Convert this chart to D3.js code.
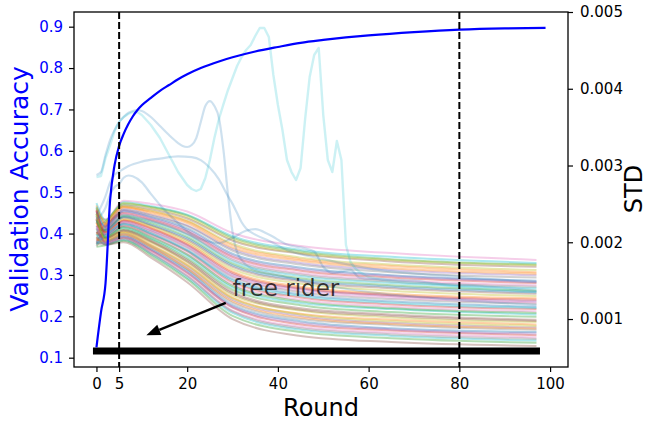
<!DOCTYPE html>
<html><head><meta charset="utf-8">
<script src="https://cdn.jsdelivr.net/npm/d3@7"></script>
<style>body{margin:0;background:#fff}svg{display:block;font-family:"DejaVu Sans",sans-serif}</style>
</head><body><svg id="chart" width="649" height="423"></svg>
<script>
// ---------- data ----------
const accRounds = [0,1,2,3,4,5,6,7,8,9,10,12,14,16,18,20,23,27,30,35,40,45,50,55,60,70,80,90,99];
const accValues = [0.125,0.21,0.28,0.48,0.566,0.612,0.641,0.664,0.683,0.698,0.710,0.728,0.745,0.759,0.773,0.785,0.800,0.816,0.826,0.840,0.851,0.861,0.868,0.874,0.879,0.887,0.893,0.896,0.897];

const bulkRounds = [0,2,6,12,20,30,45,65,97];
const bulkStd = [
 [2.36e-3,2.30e-3,2.54e-3,2.50e-3,2.40e-3,2.12e-3,1.95e-3,1.86e-3,1.77e-3],
 [2.51e-3,2.29e-3,2.52e-3,2.47e-3,2.36e-3,2.08e-3,1.90e-3,1.81e-3,1.73e-3],
 [2.20e-3,2.27e-3,2.50e-3,2.46e-3,2.35e-3,2.06e-3,1.88e-3,1.78e-3,1.71e-3],
 [2.44e-3,2.25e-3,2.48e-3,2.43e-3,2.31e-3,2.02e-3,1.85e-3,1.75e-3,1.68e-3],
 [2.05e-3,2.24e-3,2.47e-3,2.41e-3,2.28e-3,1.98e-3,1.80e-3,1.71e-3,1.64e-3],
 [2.48e-3,2.23e-3,2.45e-3,2.40e-3,2.27e-3,1.96e-3,1.78e-3,1.69e-3,1.61e-3],
 [2.28e-3,2.22e-3,2.43e-3,2.36e-3,2.22e-3,1.91e-3,1.73e-3,1.64e-3,1.57e-3],
 [2.12e-3,2.21e-3,2.42e-3,2.35e-3,2.21e-3,1.89e-3,1.71e-3,1.61e-3,1.54e-3],
 [2.40e-3,2.20e-3,2.40e-3,2.33e-3,2.18e-3,1.85e-3,1.67e-3,1.57e-3,1.50e-3],
 [1.98e-3,2.19e-3,2.38e-3,2.30e-3,2.14e-3,1.81e-3,1.63e-3,1.54e-3,1.47e-3],
 [2.33e-3,2.18e-3,2.37e-3,2.29e-3,2.12e-3,1.79e-3,1.60e-3,1.51e-3,1.44e-3],
 [2.46e-3,2.17e-3,2.35e-3,2.27e-3,2.10e-3,1.75e-3,1.56e-3,1.47e-3,1.40e-3],
 [2.16e-3,2.16e-3,2.34e-3,2.25e-3,2.07e-3,1.72e-3,1.53e-3,1.44e-3,1.37e-3],
 [2.02e-3,2.15e-3,2.32e-3,2.22e-3,2.03e-3,1.68e-3,1.49e-3,1.40e-3,1.33e-3],
 [2.38e-3,2.14e-3,2.30e-3,2.21e-3,2.01e-3,1.65e-3,1.46e-3,1.37e-3,1.30e-3],
 [2.25e-3,2.13e-3,2.29e-3,2.19e-3,1.99e-3,1.62e-3,1.42e-3,1.33e-3,1.27e-3],
 [1.95e-3,2.12e-3,2.27e-3,2.16e-3,1.96e-3,1.58e-3,1.39e-3,1.30e-3,1.23e-3],
 [2.30e-3,2.11e-3,2.25e-3,2.14e-3,1.93e-3,1.55e-3,1.35e-3,1.26e-3,1.20e-3],
 [2.09e-3,2.10e-3,2.24e-3,2.12e-3,1.90e-3,1.52e-3,1.32e-3,1.23e-3,1.16e-3],
 [2.42e-3,2.09e-3,2.22e-3,2.10e-3,1.88e-3,1.48e-3,1.28e-3,1.19e-3,1.13e-3],
 [2.22e-3,2.08e-3,2.21e-3,2.08e-3,1.85e-3,1.45e-3,1.25e-3,1.16e-3,1.10e-3],
 [2.00e-3,2.07e-3,2.19e-3,2.05e-3,1.82e-3,1.41e-3,1.21e-3,1.13e-3,1.06e-3],
 [2.35e-3,2.06e-3,2.17e-3,2.04e-3,1.79e-3,1.38e-3,1.18e-3,1.09e-3,1.03e-3],
 [2.14e-3,2.05e-3,2.16e-3,2.02e-3,1.77e-3,1.35e-3,1.14e-3,1.06e-3,0.99e-3],
 [1.96e-3,2.04e-3,2.14e-3,2.00e-3,1.74e-3,1.31e-3,1.11e-3,1.02e-3,0.96e-3],
 [2.26e-3,2.03e-3,2.13e-3,1.97e-3,1.71e-3,1.28e-3,1.07e-3,0.99e-3,0.93e-3],
 [2.07e-3,2.02e-3,2.11e-3,1.95e-3,1.68e-3,1.25e-3,1.04e-3,0.95e-3,0.89e-3],
 [2.18e-3,2.01e-3,2.09e-3,1.93e-3,1.65e-3,1.21e-3,1.00e-3,0.92e-3,0.86e-3],
 [1.99e-3,2.00e-3,2.08e-3,1.91e-3,1.63e-3,1.18e-3,0.97e-3,0.88e-3,0.83e-3],
 [2.31e-3,1.99e-3,2.06e-3,1.89e-3,1.60e-3,1.15e-3,0.93e-3,0.85e-3,0.79e-3],
 [2.03e-3,1.98e-3,2.04e-3,1.87e-3,1.57e-3,1.11e-3,0.90e-3,0.82e-3,0.76e-3],
 [2.11e-3,1.97e-3,2.03e-3,1.85e-3,1.54e-3,1.08e-3,0.86e-3,0.78e-3,0.72e-3],
 [1.94e-3,1.96e-3,2.02e-3,1.83e-3,1.52e-3,1.04e-3,0.83e-3,0.75e-3,0.69e-3],
 [2.06e-3,1.97e-3,2.00e-3,1.80e-3,1.48e-3,1.00e-3,0.78e-3,0.70e-3,0.65e-3],
 [2.45e-3,2.28e-3,2.51e-3,2.45e-3,2.33e-3,2.04e-3,1.86e-3,1.77e-3,1.70e-3],
 [2.10e-3,2.24e-3,2.46e-3,2.38e-3,2.25e-3,1.93e-3,1.76e-3,1.66e-3,1.59e-3],
 [2.34e-3,2.20e-3,2.41e-3,2.32e-3,2.16e-3,1.83e-3,1.65e-3,1.56e-3,1.485e-3],
 [2.00e-3,2.17e-3,2.36e-3,2.28e-3,2.11e-3,1.77e-3,1.58e-3,1.49e-3,1.42e-3],
 [2.27e-3,2.15e-3,2.33e-3,2.23e-3,2.05e-3,1.70e-3,1.51e-3,1.42e-3,1.35e-3],
 [2.41e-3,2.13e-3,2.28e-3,2.18e-3,1.97e-3,1.60e-3,1.40e-3,1.31e-3,1.25e-3],
 [2.19e-3,2.11e-3,2.26e-3,2.15e-3,1.94e-3,1.56e-3,1.37e-3,1.28e-3,1.215e-3],
 [1.97e-3,2.09e-3,2.23e-3,2.11e-3,1.89e-3,1.50e-3,1.30e-3,1.21e-3,1.145e-3],
 [2.29e-3,2.07e-3,2.20e-3,2.07e-3,1.84e-3,1.43e-3,1.23e-3,1.14e-3,1.08e-3],
 [2.13e-3,2.05e-3,2.15e-3,2.01e-3,1.75e-3,1.33e-3,1.12e-3,1.04e-3,0.975e-3],
 [2.37e-3,2.03e-3,2.12e-3,1.96e-3,1.70e-3,1.27e-3,1.06e-3,0.97e-3,0.91e-3],
 [2.04e-3,2.01e-3,2.10e-3,1.94e-3,1.66e-3,1.23e-3,1.02e-3,0.935e-3,0.875e-3],
 [2.21e-3,1.99e-3,2.07e-3,1.90e-3,1.61e-3,1.16e-3,0.95e-3,0.865e-3,0.81e-3],
 [1.99e-3,1.97e-3,2.05e-3,1.86e-3,1.56e-3,1.10e-3,0.88e-3,0.80e-3,0.74e-3]
];

const cyanRounds = [0,1,2,3,4,5,6,7,8,9,10,12,14,16,18,20,21,22,23,24,25,26,27,28,29,30,31,32,33,34,35,36,37,38,39,40,41,42,43,44,45,46,47,48,49,50,51,52,53,54,55,56,57,58,60,65,70,75,80,90,97];
const cyanStd = [2.850e-3,2.863e-3,3.098e-3,3.267e-3,3.450e-3,3.567e-3,3.632e-3,3.671e-3,3.697e-3,3.697e-3,3.658e-3,3.528e-3,3.358e-3,3.137e-3,2.915e-3,2.746e-3,2.694e-3,2.668e-3,2.694e-3,2.837e-3,3.072e-3,3.358e-3,3.606e-3,3.801e-3,3.984e-3,4.140e-3,4.296e-3,4.414e-3,4.505e-3,4.570e-3,4.687e-3,4.792e-3,4.792e-3,4.674e-3,4.179e-3,3.788e-3,3.463e-3,3.072e-3,2.915e-3,2.811e-3,2.967e-3,3.606e-3,4.153e-3,4.440e-3,4.531e-3,3.658e-3,3.072e-3,2.915e-3,3.319e-3,3.072e-3,1.964e-3,1.743e-3,1.664e-3,1.612e-3,1.547e-3,1.495e-3,1.469e-3,1.456e-3,1.417e-3,1.378e-3,1.352e-3];

const clientBRounds = [0,1,2,3,4,5,6,7,8,9,10,12,14,16,18,19,20,21,22,23,24,25,26,27,28,29,30,31,32,34,40,50,60,80,97];
const clientBStd = [2.876e-3,2.915e-3,3.137e-3,3.332e-3,3.463e-3,3.567e-3,3.632e-3,3.684e-3,3.710e-3,3.723e-3,3.710e-3,3.632e-3,3.515e-3,3.397e-3,3.293e-3,3.254e-3,3.241e-3,3.267e-3,3.358e-3,3.567e-3,3.775e-3,3.840e-3,3.775e-3,3.619e-3,3.202e-3,2.616e-3,2.134e-3,1.873e-3,1.769e-3,1.664e-3,1.573e-3,1.443e-3,1.352e-3,1.248e-3,1.182e-3];

const clientCRounds = [0,2,3,4,5,7,10,14,18,21,23,25,27,29,30,31,32,33,35,38,42,50,60,80,97];
const clientCStd = [2.35e-3,2.60e-3,2.78e-3,2.88e-3,2.92e-3,2.99e-3,3.05e-3,3.09e-3,3.12e-3,3.11e-3,3.07e-3,2.97e-3,2.82e-3,2.60e-3,2.50e-3,2.38e-3,2.26e-3,2.18e-3,2.10e-3,2.02e-3,1.90e-3,1.78e-3,1.66e-3,1.55e-3,1.48e-3];

const clientDRounds = [0,2,3,4,5,6,7,8,10,12,15,18,21,24,27,30,33,35,38,42,46,48,50,52,54,56,58,62,70,75,85,97];
const clientDStd = [2.30e-3,2.45e-3,2.62e-3,2.72e-3,2.76e-3,2.84e-3,2.87e-3,2.86e-3,2.78e-3,2.63e-3,2.42e-3,2.25e-3,2.10e-3,2.02e-3,1.99e-3,2.06e-3,2.15e-3,2.17e-3,2.10e-3,1.97e-3,1.92e-3,1.88e-3,1.68e-3,1.60e-3,1.62e-3,1.64e-3,1.54e-3,1.52e-3,1.50e-3,1.46e-3,1.43e-3,1.37e-3];

const freeRiderRounds = [0, 97];
const freeRiderStd = [0.583e-3, 0.583e-3];

const markerRounds = [5, 80];
const xTicks = [0,5,20,40,60,80,100];
const accTicks = [0.1,0.2,0.3,0.4,0.5,0.6,0.7,0.8,0.9];
const stdTicks = [0.001,0.002,0.003,0.004,0.005];

const annotationText = "free rider";
const annotationTextPos = [30, 1.30e-3];
const annotationArrowFrom = [28.5, 1.21e-3];
const annotationArrowTo = [11, 0.79e-3];

// ---------- drawing ----------
const L = 74, R = 568, T = 12, B = 367;
const svg = d3.select("#chart");
const x = d3.scaleLinear().domain([-4.95, 103.95]).range([L, R]);
const yAcc = d3.scaleLinear().domain([0.0775, 0.9355]).range([B, T]);
const yStd = d3.scaleLinear().domain([0.000375, 0.005]).range([B, T]);
const tab10 = d3.schemeCategory10;

svg.append("defs").append("clipPath").attr("id","clip")
  .append("rect").attr("x",L).attr("y",T).attr("width",R-L).attr("height",B-T);
const plot = svg.append("g").attr("clip-path","url(#clip)");

const zip = (xs, ys) => xs.map((r,i)=>[r, ys[i]]);
const stdLineSmooth = d3.line().x(d=>x(d[0])).y(d=>yStd(d[1])).curve(d3.curveMonotoneX);
const stdLine = d3.line().x(d=>x(d[0])).y(d=>yStd(d[1]));

const colorOffset = 6;
bulkStd.forEach((vals,i)=>{
  plot.append("path").attr("d", stdLineSmooth(zip(bulkRounds, vals)))
    .attr("fill","none").attr("stroke", tab10[(i*3+colorOffset)%10])
    .attr("stroke-opacity",0.36).attr("stroke-width",2);
});

[[clientBRounds, clientBStd, tab10[0]],[clientCRounds, clientCStd, tab10[0]],[clientDRounds, clientDStd, tab10[0]]].forEach(([rs, vs, c])=>{
  plot.append("path").attr("d", stdLineSmooth(zip(rs, vs)))
    .attr("fill","none").attr("stroke", c).attr("stroke-opacity",0.22).attr("stroke-width",2.2);
});
plot.append("path").attr("d", stdLine(zip(cyanRounds, cyanStd)))
  .attr("fill","none").attr("stroke", tab10[9]).attr("stroke-opacity",0.22).attr("stroke-width",2.4)
  .attr("stroke-linejoin","round");

// free rider
plot.append("path").attr("d", stdLine(zip(freeRiderRounds, freeRiderStd)))
  .attr("fill","none").attr("stroke","#000").attr("stroke-width",7).attr("stroke-linecap","square");

// accuracy
const accLine = d3.line().x(d=>x(d[0])).y(d=>yAcc(d[1])).curve(d3.curveMonotoneX);
plot.append("path").attr("d", accLine(zip(accRounds, accValues)))
  .attr("fill","none").attr("stroke","#0000ff").attr("stroke-width",2.2);

// vertical dashed markers
markerRounds.forEach(r=>{
  plot.append("line").attr("x1",x(r)).attr("x2",x(r)).attr("y1",T).attr("y2",B)
    .attr("stroke","#000").attr("stroke-width",2).attr("stroke-dasharray","7,3");
});

// annotation
const ax0 = x(annotationArrowFrom[0]), ay0 = yStd(annotationArrowFrom[1]);
const ax1 = x(annotationArrowTo[0]), ay1 = yStd(annotationArrowTo[1]);
const ang = Math.atan2(ay1-ay0, ax1-ax0);
const headLen = 14, headHalf = 5.5;
const bx = ax1 - headLen*Math.cos(ang), by = ay1 - headLen*Math.sin(ang);
svg.append("line").attr("x1",ax0).attr("y1",ay0).attr("x2",bx).attr("y2",by)
  .attr("stroke","#000").attr("stroke-width",2.5);
svg.append("path").attr("d", `M${ax1},${ay1}L${bx - headHalf*Math.sin(ang)},${by + headHalf*Math.cos(ang)}L${bx + headHalf*Math.sin(ang)},${by - headHalf*Math.cos(ang)}Z`)
  .attr("fill","#000");
svg.append("text").attr("x", x(annotationTextPos[0])).attr("y", yStd(annotationTextPos[1]))
  .attr("font-size",23).attr("fill","#000").attr("fill-opacity",0.75).text(annotationText);

// frame
svg.append("rect").attr("x",L).attr("y",T).attr("width",R-L).attr("height",B-T)
  .attr("fill","none").attr("stroke","#000").attr("stroke-width",1.3);

// axes
const gx = svg.append("g").attr("transform",`translate(0,${B})`)
  .call(d3.axisBottom(x).tickValues(xTicks).tickFormat(d3.format("d")).tickSize(5).tickPadding(6));
const gl = svg.append("g").attr("transform",`translate(${L},0)`)
  .call(d3.axisLeft(yAcc).tickValues(accTicks).tickFormat(d3.format(".1f")).tickSize(5).tickPadding(6));
const gr = svg.append("g").attr("transform",`translate(${R},0)`)
  .call(d3.axisRight(yStd).tickValues(stdTicks).tickFormat(d3.format(".3f")).tickSize(5).tickPadding(7));
[gx,gl,gr].forEach(g=>{
  g.select(".domain").remove();
  g.selectAll("text").attr("font-size",15).attr("font-family","DejaVu Sans").attr("fill","#000");
  g.selectAll("line").attr("stroke","#000").attr("stroke-width",1.2);
});
gl.selectAll("text").attr("fill","#0000ff");

// axis titles
svg.append("text").attr("transform",`translate(28,189) rotate(-90)`)
  .attr("text-anchor","middle").attr("font-size",25).attr("fill","#0000ff").text("Validation Accuracy");
svg.append("text").attr("x",(L+R)/2).attr("y",416)
  .attr("text-anchor","middle").attr("font-size",24).attr("fill","#000").text("Round");
svg.append("text").attr("transform",`translate(642,189) rotate(-90)`)
  .attr("text-anchor","middle").attr("font-size",24).attr("fill","#000").text("STD");
</script></body></html>
